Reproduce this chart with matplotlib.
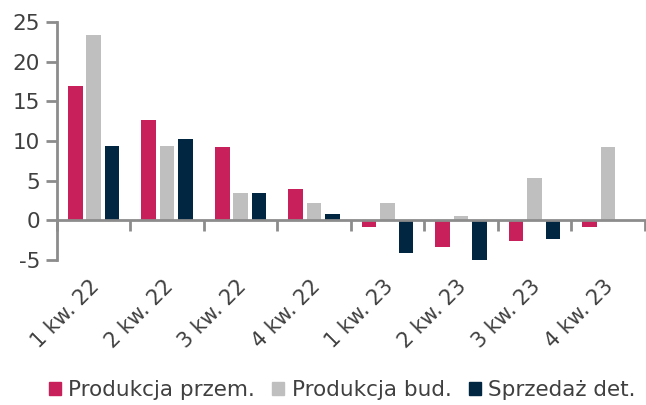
import numpy as np
import matplotlib.pyplot as plt
from matplotlib.patches import Patch

plt.rcParams['font.family'] = ['DejaVu Sans']
plt.rcParams['axes.unicode_minus'] = False

# dane
kwartaly = ['1 kw. 22', '2 kw. 22', '3 kw. 22', '4 kw. 22',
            '1 kw. 23', '2 kw. 23', '3 kw. 23', '4 kw. 23']
produkcja_przem = [16.9, 12.6, 9.2, 4.0, -0.8, -3.4, -2.6, -0.8]
produkcja_bud = [23.3, 9.4, 3.4, 2.2, 2.2, 0.6, 5.3, 9.2]
sprzedaz_det = [9.4, 10.2, 3.4, 0.8, -4.1, -5.2, -2.4, np.nan]
nazwy = ['Produkcja przem.', 'Produkcja bud.', 'Sprzedaż det.']
kolory = ['#C8205A', '#BFBFBF', '#002642']
tekst = '#404040'
os_kolor = '#8C8C8C'

fig = plt.figure(figsize=(6.46, 4.05), dpi=100)
ax = fig.add_axes([0.088, 0.358, 0.91, 0.588])

x = np.arange(len(kwartaly))
szer = 0.2
krok = 0.25
for i, (dane, kol) in enumerate(zip([produkcja_przem, produkcja_bud, sprzedaz_det], kolory)):
    ax.bar(x + (i - 1) * krok, dane, szer, color=kol, zorder=2)

ax.set_xlim(-0.5, len(kwartaly) - 0.5)
ax.set_ylim(-5, 25)
ax.set_yticks(range(-5, 30, 5))
ax.tick_params(axis='y', direction='out', length=8, width=2, color=os_kolor,
               labelsize=15.5, labelcolor=tekst, pad=4)

# os x w zerze, kreski na granicach kategorii
ax.spines['bottom'].set_position(('data', 0))
ax.spines['bottom'].set_color(os_kolor)
ax.spines['bottom'].set_linewidth(2)
ax.spines['left'].set_color(os_kolor)
ax.spines['left'].set_linewidth(2)
ax.spines['top'].set_visible(False)
ax.spines['right'].set_visible(False)
ax.set_xticks(np.arange(len(kwartaly) + 1) - 0.5)
ax.set_xticklabels([])
ax.tick_params(axis='x', direction='out', length=8, width=2, color=os_kolor)

# etykiety kwartalow pod wykresem
for xi, lab in zip(x, kwartaly):
    ax.text(xi - 0.06, -0.07, lab, transform=ax.get_xaxis_transform(),
            rotation=45, ha='right', va='top', rotation_mode='anchor',
            fontsize=15, color=tekst)

uchwyty = [Patch(color=k) for k in kolory]
fig.legend(uchwyty, nazwy, loc='lower center', bbox_to_anchor=(0.53, -0.035),
           ncol=3, frameon=False, fontsize=15.5, labelcolor=tekst,
           handlelength=0.55, handleheight=0.55, handletextpad=0.35, columnspacing=0.8)

fig.savefig('out.png', dpi=100)
